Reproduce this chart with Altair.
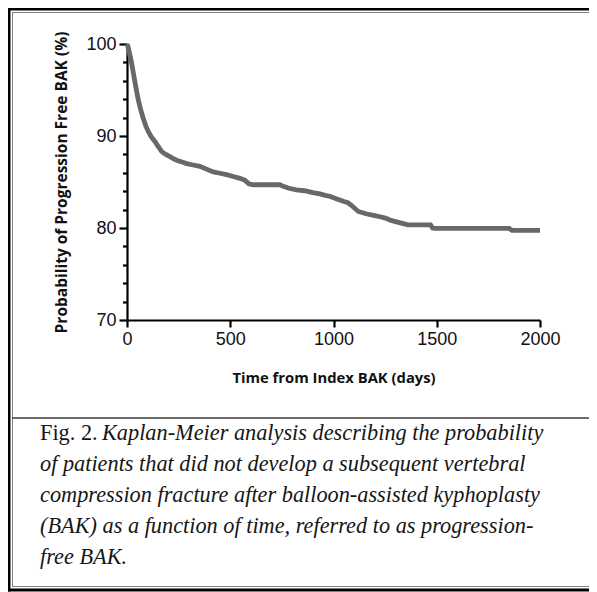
import altair as alt
import pandas as pd

# Kaplan-Meier estimate
days = [0, 5, 10, 20, 31, 43, 55, 67, 79, 91, 103, 118, 135, 150, 168, 188, 208, 228, 248, 270, 289, 320,
        353, 385, 418, 450, 482, 515, 547, 570, 590, 611, 680, 740, 760, 780, 820, 860, 880, 900, 934, 960,
        982, 1010, 1047, 1070, 1085, 1100, 1120, 1157, 1200, 1231, 1255, 1275, 1300, 1343, 1360, 1470,
        1480, 1490, 1850, 1865, 2000]
surv = [100.0, 99.7, 99.2, 98.2, 96.8, 95.3, 93.9, 92.8, 91.9, 91.1, 90.5, 89.9, 89.4, 88.9, 88.3, 88.0,
        87.75, 87.5, 87.3, 87.15, 87.0, 86.85, 86.7, 86.4, 86.1, 85.95, 85.8, 85.6, 85.4, 85.2, 84.8, 84.7,
        84.7, 84.7, 84.5, 84.35, 84.15, 84.05, 83.95, 83.85, 83.7, 83.55, 83.45, 83.2, 82.9, 82.75, 82.5,
        82.2, 81.8, 81.55, 81.35, 81.2, 81.05, 80.85, 80.7, 80.45, 80.35, 80.35, 80.0, 79.95, 79.95, 79.75,
        79.75]

x_ticks = [0, 500, 1000, 1500, 2000]
y_ticks = [70, 72, 74, 76, 78, 80, 82, 84, 86, 88, 90, 92, 94, 96, 98, 100]

x_title = "Time from Index BAK (days)"
y_title = "Probability of Progression Free BAK (%)"

caption_lead = "Fig. 2."
caption_lines = [
    "Kaplan-Meier analysis describing the probability",
    "of patients that did not develop a subsequent vertebral",
    "compression fracture after balloon-assisted kyphoplasty",
    "(BAK) as a function of time, referred to as progression-",
    "free BAK.",
]

km = pd.DataFrame({"days": days, "surv": surv})
one = pd.DataFrame({"a": [0]})

W, H = 413, 276

xs = alt.Scale(domain=[0, 2000], nice=False)
ys = alt.Scale(domain=[70, 100], nice=False)

curve = alt.Chart(km).mark_line(
    interpolate="linear", color="#686868", strokeWidth=4.8, clip=False
).encode(
    x=alt.X("days:Q", scale=xs, axis=alt.Axis(
        values=x_ticks, format="d", title=x_title, grid=False, domainColor="black", domainWidth=2.2,
        tickColor="black", tickWidth=2.2, tickSize=7, labelFont="Liberation Sans", labelFontSize=18,
        labelColor="#111", labelPadding=3, titleFont="Open Sans", titleFontWeight="bold",
        titleFontSize=14.8, titleColor="#111", titlePadding=22, labelFlush=False)),
    y=alt.Y("surv:Q", scale=ys, axis=alt.Axis(
        values=y_ticks, title=y_title, grid=False, domainColor="black", domainWidth=2.2,
        tickColor="black", tickWidth=2.2,
        tickSize={"condition": {"test": "datum.value % 10 === 0", "value": 8}, "value": 4.5},
        labelExpr="datum.value % 10 === 0 ? datum.label : ''",
        labelFont="Liberation Sans", labelFontSize=18, labelColor="#111", labelPadding=3,
        titleFont="Open Sans", titleFontWeight="bold", titleFontSize=15.5, titleColor="#111",
        titlePadding=16, labelFlush=False)),
)


# figure frame (decoration), drawn as thin rectangles
def box(x1, x2, y1, y2, color):
    return alt.Chart(one).mark_rect(color=color, clip=False).encode(
        x=alt.value(x1), x2=alt.value(x2), y=alt.value(y1), y2=alt.value(y2))


R = 470
frame = [
    box(-119, -116.5, -36, 547.5, "black"),        # left outer
    box(-115, -114, -32, 543, "#808080"),          # left inner
    box(-119, R, -36, -33.5, "black"),             # top outer
    box(-115, R, -32, -31, "#808080"),             # top inner
    box(-119, R, 544.5, 547.5, "black"),           # bottom outer
    box(-115, R, 542, 543, "#808080"),             # bottom inner
    box(-115, R, 373.3, 374.8, "#3a3a3a"),         # separator
]

cap_font = "Liberation Serif"
cap_size = 22.3
base_y = 396
step = 31
texts = [alt.Chart(one).mark_text(
    text=caption_lead, font=cap_font, fontSize=cap_size, align="left", baseline="alphabetic",
    color="#161616", clip=False).encode(x=alt.value(-87), y=alt.value(base_y))]
for i, line in enumerate(caption_lines):
    texts.append(alt.Chart(one).mark_text(
        text=line, font=cap_font, fontSize=cap_size, fontStyle="italic", align="left",
        baseline="alphabetic", color="#161616", clip=False).encode(
        x=alt.value(-25 if i == 0 else -87), y=alt.value(base_y + i * step)))

chart = alt.layer(curve, *frame, *texts).properties(
    width=W, height=H,
    background="white",
    autosize=alt.AutoSizeParams(type="none"),
    padding={"left": 119, "top": 36, "right": 49, "bottom": 272},
).configure_view(stroke="transparent", strokeWidth=0)

chart.save("out.html", embed_options={"renderer": "svg", "actions": False})
